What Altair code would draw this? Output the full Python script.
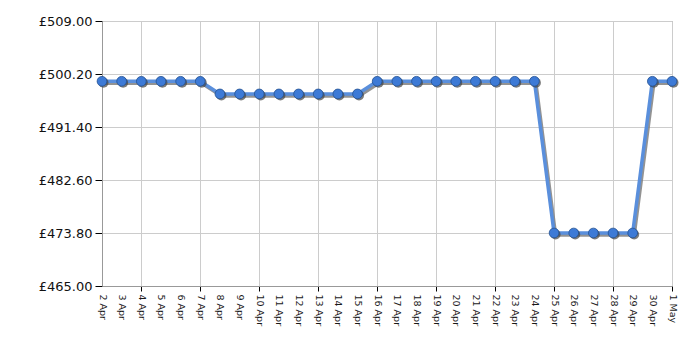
import altair as alt
import pandas as pd

days = ["2 Apr", "3 Apr", "4 Apr", "5 Apr", "6 Apr", "7 Apr", "8 Apr", "9 Apr", "10 Apr",
        "11 Apr", "12 Apr", "13 Apr", "14 Apr", "15 Apr", "16 Apr", "17 Apr", "18 Apr",
        "19 Apr", "20 Apr", "21 Apr", "22 Apr", "23 Apr", "24 Apr", "25 Apr", "26 Apr",
        "27 Apr", "28 Apr", "29 Apr", "30 Apr", "1 May"]
prices = [498.99, 498.99, 498.99, 498.99, 498.99, 498.99,
          496.89, 496.89, 496.89, 496.89, 496.89, 496.89, 496.89, 496.89,
          498.99, 498.99, 498.99, 498.99, 498.99, 498.99, 498.99, 498.99, 498.99,
          473.80, 473.80, 473.80, 473.80, 473.80,
          498.99, 498.99]
y_ticks = [465.00, 473.80, 482.60, 491.40, 500.20, 509.00]
grid_days = ["4 Apr", "7 Apr", "10 Apr", "13 Apr", "16 Apr", "19 Apr", "22 Apr", "25 Apr", "28 Apr", "1 May"]

df = pd.DataFrame({"day": days, "price": prices})

FONT = "DejaVu Sans"

xscale = alt.Scale(type="point", padding=0, domain=days)
yscale = alt.Scale(domain=[465, 509], nice=False, zero=False)

x_labels = alt.X("day:O", scale=xscale, title=None,
                 axis=alt.Axis(values=days, orient="bottom", grid=False, ticks=False,
                               domain=True, domainColor="#999999",
                               labelAngle=90, labelAlign="left", labelBaseline="middle",
                               labelPadding=8, labelFont=FONT, labelFontSize=9.5,
                               labelColor="#1a1a1a", labelOverlap=False))
x_grid = alt.X("day:O", scale=xscale, title=None,
               axis=alt.Axis(values=grid_days, orient="bottom", grid=True, gridColor="#cccccc",
                             ticks=True, tickSize=5, tickColor="#000000", labels=False,
                             domain=False))
x_none = alt.X("day:O", scale=xscale, title=None, axis=None)

y_axis = alt.Y("price:Q", scale=yscale, title=None,
               axis=alt.Axis(values=y_ticks, grid=True, gridColor="#cccccc",
                             tickSize=7, tickColor="#000000", domainColor="#999999",
                             labelExpr="'£' + format(datum.value, '.2f')",
                             labelFont=FONT, labelFontSize=13, labelColor="#111111",
                             labelPadding=3))

base = alt.Chart(df)

grid_layer = base.mark_line(opacity=0).encode(x=x_grid, y=y_axis)
shadow_line = base.mark_line(color="#808080", strokeWidth=3.5, xOffset=1.5, yOffset=2, opacity=0.85).encode(
    x=x_labels, y=y_axis)
main_line = base.mark_line(color="#5a8fdc", strokeWidth=3.5).encode(x=x_none, y=y_axis)
shadow_pts = base.mark_circle(color="#444444", size=100, opacity=0.7, xOffset=1.5, yOffset=1.5).encode(
    x=x_none, y=y_axis)
main_pts = base.mark_point(filled=True, fill="#3d7ad6", stroke="#23508f", strokeWidth=0.8,
                           size=95, opacity=1, shape="circle").encode(x=x_none, y=y_axis)

chart = alt.layer(grid_layer, shadow_line, main_line, shadow_pts, main_pts).resolve_axis(
    x="independent"
).properties(
    width=570, height=265,
    autosize=alt.AutoSizeParams(type="none"),
    padding={"left": 102, "top": 21, "right": 28, "bottom": 64},
    background="white"
).configure_view(stroke="#999999", strokeWidth=1)

chart.save("out.html", embed_options={"renderer": "svg", "actions": False})
